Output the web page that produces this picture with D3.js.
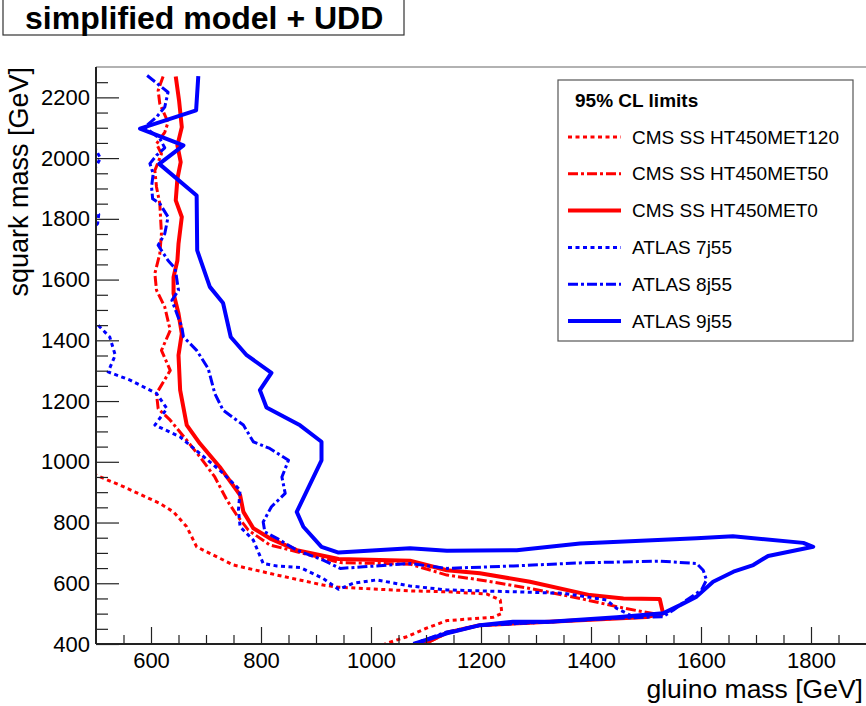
<!DOCTYPE html>
<html>
<head>
<meta charset="utf-8">
<script src="https://cdn.jsdelivr.net/npm/d3@7"></script>
<style>
  body { margin: 0; background: #fff; }
  svg text { font-family: "Liberation Sans", Arial, Helvetica, sans-serif; }
</style>
</head>
<body>
<svg id="chart" width="866" height="706"></svg>
<script>
/////////////////////////// Exclusion contours ///////////////////////////

// [gluino mass, squark mass] in GeV
const cmsMet120 = [
  [495, 960], [550, 918], [616, 863], [641, 835], [665, 786], [683, 720], [713, 693],
  [750, 660], [829, 627], [913, 594], [941, 587], [1071, 575], [1138, 572], [1210, 565],
  [1235, 545], [1238, 501], [1222, 488], [1138, 477], [1101, 452], [1065, 424], [1025, 400]
];

const cmsMet50 = [
  [622, 2269], [613, 2223], [616, 2179], [631, 2118], [625, 2085], [610, 2047], [619, 2014],
  [607, 1959], [610, 1905], [616, 1850], [619, 1751], [616, 1685], [607, 1620], [610, 1565],
  [625, 1510], [635, 1433], [619, 1367], [635, 1301], [610, 1225], [613, 1175], [635, 1137],
  [665, 1071], [689, 1016], [716, 950], [738, 874], [756, 824], [777, 775], [816, 726],
  [865, 704], [944, 668], [1071, 663], [1138, 627], [1198, 611], [1289, 583], [1380, 550],
  [1447, 523], [1495, 506], [1531, 495], [1447, 486], [1325, 473], [1198, 462], [1138, 436],
  [1098, 400]
];

const cmsMet0 = [
  [645, 2269], [651, 2190], [656, 2102], [648, 2042], [654, 1987], [648, 1932], [645, 1861],
  [656, 1806], [650, 1718], [648, 1663], [641, 1608], [641, 1554], [650, 1488], [656, 1422],
  [650, 1351], [653, 1236], [665, 1121], [689, 1060], [725, 983], [762, 890], [768, 835],
  [786, 781], [816, 748], [865, 709], [941, 680], [1071, 674], [1138, 643], [1198, 633],
  [1289, 605], [1398, 561], [1459, 550], [1525, 548], [1531, 501], [1501, 489], [1325, 473],
  [1198, 462], [1138, 437], [1095, 400]
];

const atlas7j = [
  [460, 2110], [490, 2060], [508, 2000], [495, 1955], [470, 1900], [485, 1850], [505, 1815],
  [503, 1785], [470, 1720], [470, 1500], [501, 1455], [525, 1411], [535, 1351], [522, 1296],
  [562, 1269], [610, 1225], [629, 1175], [607, 1121], [653, 1082], [689, 1027], [725, 972],
  [762, 907], [759, 841], [762, 786], [786, 742], [804, 665], [829, 657], [871, 652],
  [913, 616], [941, 580], [968, 600], [1010, 611], [1071, 591], [1138, 578], [1259, 572],
  [1350, 567], [1428, 545], [1447, 517], [1477, 490], [1325, 473], [1198, 462], [1138, 436],
  [1077, 400]
];

const atlas8j = [
  [593, 2272], [631, 2217], [625, 2168], [610, 2135], [589, 2102], [616, 2064], [625, 2034],
  [610, 2009], [598, 1982], [604, 1949], [601, 1905], [603, 1866], [616, 1850], [631, 1806],
  [625, 1751], [613, 1713], [631, 1663], [644, 1636], [650, 1565], [638, 1532], [656, 1444],
  [659, 1411], [683, 1367], [704, 1307], [716, 1225], [731, 1170], [768, 1121], [786, 1066],
  [816, 1044], [850, 1005], [838, 950], [844, 896], [819, 852], [804, 802], [807, 769],
  [829, 748], [865, 709], [913, 676], [944, 649], [986, 654], [1071, 665], [1138, 649],
  [1259, 657], [1380, 667], [1525, 673], [1592, 665], [1604, 643], [1610, 611], [1601, 578],
  [1574, 545], [1550, 512], [1531, 490], [1447, 485], [1325, 473], [1198, 461], [1138, 440],
  [1089, 408], [1080, 400]
];

const atlas9j = [
  [686, 2270], [682, 2157], [580, 2097], [659, 2042], [615, 1981], [683, 1877], [684, 1696],
  [707, 1576], [731, 1523], [745, 1411], [774, 1351], [819, 1293], [798, 1236], [810, 1179],
  [871, 1120], [910, 1066], [910, 1005], [865, 835], [877, 786], [910, 720], [941, 701],
  [1071, 715], [1138, 707], [1265, 709], [1380, 731], [1592, 748], [1658, 755], [1786, 733],
  [1804, 720], [1722, 690], [1695, 660], [1659, 638], [1622, 605], [1592, 556], [1562, 528],
  [1531, 501], [1447, 488], [1325, 473], [1258, 473], [1198, 462], [1138, 435], [1077, 400]
];

const seriesNames = ["CMS SS HT450MET120", "CMS SS HT450MET50", "CMS SS HT450MET0",
                     "ATLAS 7j55", "ATLAS 8j55", "ATLAS 9j55"];
const seriesData = [cmsMet120, cmsMet50, cmsMet0, atlas7j, atlas8j, atlas9j];
const seriesColor = ["#ff0000", "#ff0000", "#ff0000", "#0000ff", "#0000ff", "#0000ff"];
const seriesDash = ["4 3.5", "10 3 3 3", null, "4 3.5", "10 3 3 3", null];
const seriesWidth = [3, 3, 4, 3, 3, 4];

const xTicks = [600, 800, 1000, 1200, 1400, 1600, 1800];
const yTicks = [400, 600, 800, 1000, 1200, 1400, 1600, 1800, 2000, 2200];

const svg = d3.select("#chart");

const x = d3.scaleLinear().domain([500, 1900]).range([96, 866]);
const y = d3.scaleLinear().domain([400, 2300]).range([644, 67]);

//_________________ Title pave
svg.append("rect")
  .attr("x", 3).attr("y", -2).attr("width", 401).attr("height", 37)
  .attr("fill", "#fff").attr("stroke", "#333").attr("stroke-width", 1.2);
svg.append("text")
  .attr("x", 25).attr("y", 29)
  .attr("font-size", 32).attr("font-weight", "bold")
  .text("simplified model + UDD");

//_________________ Curves
svg.append("clipPath").attr("id", "plotClip")
  .append("rect")
  .attr("x", x(500)).attr("y", y(2300))
  .attr("width", x(1900) - x(500)).attr("height", y(400) - y(2300));

const line = d3.line().x(d => x(d[0])).y(d => y(d[1]));

const curves = svg.append("g").attr("clip-path", "url(#plotClip)");
seriesData.forEach((pts, i) => {
  curves.append("path")
    .datum(pts)
    .attr("d", line)
    .attr("fill", "none")
    .attr("stroke", seriesColor[i])
    .attr("stroke-width", seriesWidth[i])
    .attr("stroke-dasharray", seriesDash[i])
    .attr("stroke-linejoin", "round");
});

//_________________ Axes (ticks inside, ROOT style)
function minorValues(lo, hi, step, majors) {
  const out = [];
  for (let v = lo; v <= hi; v += step) if (!majors.includes(v)) out.push(v);
  return out;
}

svg.append("g")
  .attr("transform", `translate(0,${y(400)})`)
  .call(d3.axisBottom(x).tickValues(xTicks).tickSize(-17).tickPadding(8).tickFormat(d3.format("d")));
svg.append("g")
  .attr("transform", `translate(0,${y(400)})`)
  .call(d3.axisBottom(x).tickValues(minorValues(550, 1850, 50, xTicks)).tickSize(-9).tickFormat(""));

svg.append("g")
  .attr("transform", `translate(${x(500)},0)`)
  .call(d3.axisLeft(y).tickValues(yTicks).tickSize(-23).tickPadding(6).tickFormat(d3.format("d")));
svg.append("g")
  .attr("transform", `translate(${x(500)},0)`)
  .call(d3.axisLeft(y).tickValues(minorValues(450, 2250, 50, yTicks)).tickSize(-12).tickFormat(""));

svg.selectAll(".domain").remove();
svg.selectAll(".tick line").attr("stroke", "#222").attr("stroke-width", 1.2);
svg.selectAll(".tick text")
  .attr("font-size", 22).attr("fill", "#000");

// frame
svg.append("line").attr("x1", x(500)).attr("x2", 866).attr("y1", y(2300)).attr("y2", y(2300))
  .attr("stroke", "#666").attr("stroke-width", 1.2);
svg.append("line").attr("x1", x(500)).attr("x2", 866).attr("y1", y(400)).attr("y2", y(400))
  .attr("stroke", "#222").attr("stroke-width", 2);
svg.append("line").attr("x1", x(500)).attr("x2", x(500)).attr("y1", y(2300)).attr("y2", y(400))
  .attr("stroke", "#222").attr("stroke-width", 2);

// axis titles
svg.append("text")
  .attr("x", 863).attr("y", 698)
  .attr("text-anchor", "end").attr("font-size", 26.5)
  .text("gluino mass [GeV]");
svg.append("text")
  .attr("transform", "translate(28,67) rotate(-90)")
  .attr("text-anchor", "end").attr("font-size", 27)
  .text("squark mass [GeV]");

//_________________ Legend
const legend = svg.append("g");
legend.append("rect")
  .attr("x", 558).attr("y", 80).attr("width", 295).attr("height", 261)
  .attr("fill", "#fff").attr("stroke", "#555").attr("stroke-width", 1.2);
legend.append("text")
  .attr("x", 575).attr("y", 107)
  .attr("font-size", 19).attr("font-weight", "bold")
  .text("95% CL limits");

seriesNames.forEach((name, i) => {
  const cy = 137 + i * 36.8;
  legend.append("line")
    .attr("x1", 568).attr("x2", 621).attr("y1", cy).attr("y2", cy)
    .attr("stroke", seriesColor[i])
    .attr("stroke-width", seriesWidth[i])
    .attr("stroke-dasharray", seriesDash[i]);
  legend.append("text")
    .attr("x", 632).attr("y", cy + 6.5)
    .attr("font-size", 19)
    .text(name);
});
</script>
</body>
</html>
